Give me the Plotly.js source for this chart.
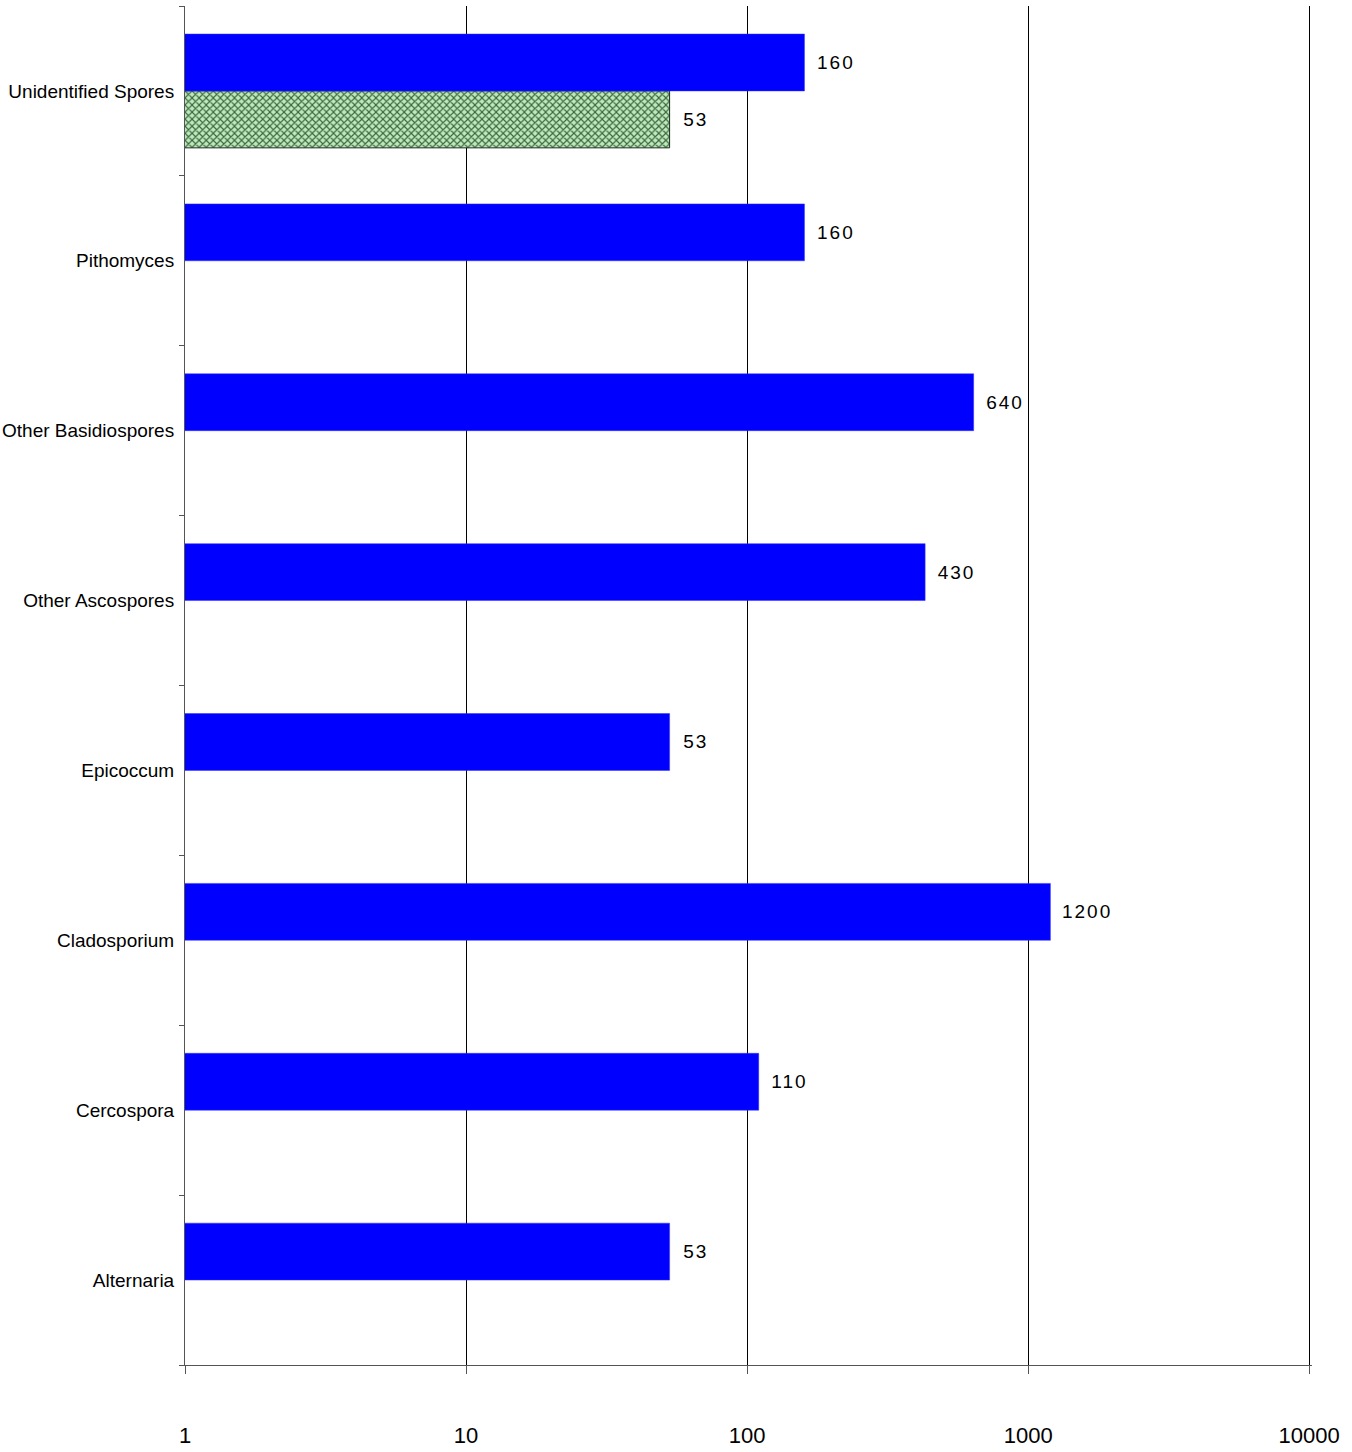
<!DOCTYPE html>
<html>
<head>
<meta charset="utf-8">
<script src="https://cdn.plot.ly/plotly-3.0.1.min.js"></script>
<style>
html,body{margin:0;padding:0;background:#fff;}
#chart{width:1352px;height:1452px;}
.barlayer .bartext{letter-spacing:2px;}
</style>
</head>
<body>
<div id="chart"></div>
<script>
const categories = ["Alternaria","Cercospora","Cladosporium","Epicoccum","Other Ascospores","Other Basidiospores","Pithomyces","Unidentified Spores"];
const blueValues = [53, 110, 1200, 53, 430, 640, 160, 160];
const greenValues = [null, null, null, null, null, null, null, 53];
const xTickVals = [1, 10, 100, 1000, 10000];
const xTickText = ["1", "10", "100", "1000", "10000"];

const fam = "Liberation Sans, Arial, sans-serif";
const labelFont = {family: fam, size: 19, color: "#000"};

const traces = [
  {
    type: "bar", orientation: "h", name: "Series 2",
    y: categories, x: greenValues,
    text: greenValues.map(v => v == null ? "" : "\u00a0\u00a0" + v),
    textposition: "outside", cliponaxis: false,
    textfont: labelFont,
    marker: {
      color: "#2f5f2f",
      line: {color: "#1a2e1a", width: 1},
      pattern: {shape: "x", bgcolor: "#bfe8bf", fgcolor: "#3a663a", size: 5, solidity: 0.4, fillmode: "replace"}
    },
    hoverinfo: "x+y"
  },
  {
    type: "bar", orientation: "h", name: "Series 1",
    y: categories, x: blueValues,
    text: blueValues.map(v => "\u00a0\u00a0" + v),
    textposition: "outside", cliponaxis: false,
    textfont: labelFont,
    marker: {color: "#0000ff", line: {color: "#3333ff", width: 0.5}},
    hoverinfo: "x+y"
  }
];

const layout = {
  width: 1352, height: 1452,
  margin: {l: 185, r: 40, t: 6, b: 87},
  paper_bgcolor: "#fff", plot_bgcolor: "#fff",
  showlegend: false,
  barmode: "group",
  bargap: 0.33,
  bargroupgap: 0,
  font: {family: fam, color: "#000"},
  xaxis: {
    type: "log", range: [0, 4.01],
    tickvals: xTickVals, ticktext: xTickText,
    showgrid: true, gridcolor: "#000", gridwidth: 1,
    showline: true, linecolor: "#555", linewidth: 1,
    ticks: "outside", ticklen: 8, tickcolor: "#555",
    ticklabelstandoff: 43,
    tickfont: {family: fam, size: 22, color: "#000"},
    zeroline: false, fixedrange: true
  },
  yaxis: {
    type: "category",
    categoryorder: "array", categoryarray: categories,
    range: [-0.5, 7.5],
    showline: true, linecolor: "#555", linewidth: 1,
    ticks: "outside", ticklen: 5, tickcolor: "#555",
    tickson: "boundaries",
    showgrid: false,
    ticklabelstandoff: 6,
    tickfont: {family: fam, size: 19, color: "#000"},
    fixedrange: true
  }
};

Plotly.newPlot("chart", traces, layout, {displayModeBar: false, staticPlot: true});
</script>
</body>
</html>
